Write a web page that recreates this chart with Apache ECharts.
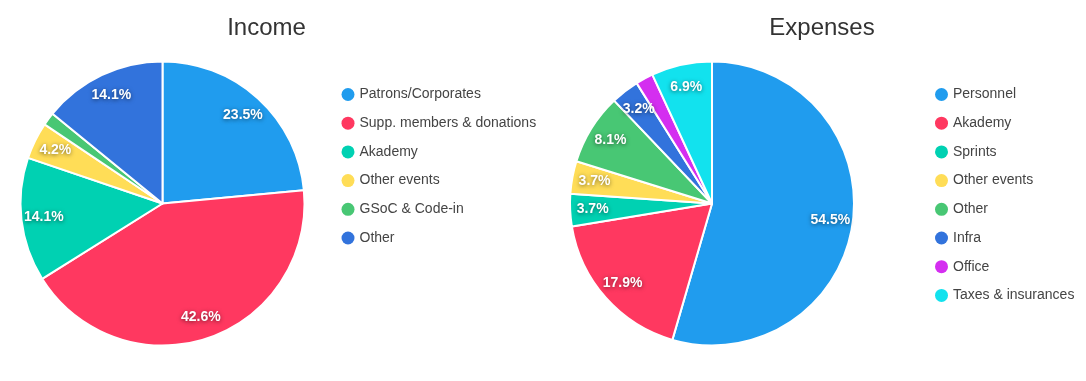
<!DOCTYPE html>
<html><head><meta charset="utf-8">
<script src="https://cdn.jsdelivr.net/npm/echarts@6/dist/echarts.min.js"></script>
<style>html,body{margin:0;padding:0;background:#fff}#c{width:1086px;height:381px}</style>
</head><body><div id="c"></div>
<script>
const incomeLabels = ['Patrons/Corporates', 'Supp. members & donations', 'Akademy', 'Other events', 'GSoC & Code-in', 'Other'];
const incomeValues = [23.5, 42.6, 14.1, 4.2, 1.5, 14.1];
const incomeColors = ['#209cee', '#ff3860', '#00d1b2', '#ffdd57', '#48c774', '#3273dc'];

const expenseLabels = ['Personnel', 'Akademy', 'Sprints', 'Other events', 'Other', 'Infra', 'Office', 'Taxes & insurances'];
const expenseValues = [54.5, 17.9, 3.7, 3.7, 8.1, 3.2, 2.0, 6.9];
const expenseColors = ['#209cee', '#ff3860', '#00d1b2', '#ffdd57', '#48c774', '#3273dc', '#d42ef0', '#12e2ee'];

const FONT = '"Liberation Sans", Arial, sans-serif';
const chart = echarts.init(document.getElementById('c'), null, {renderer: 'canvas'});

function mk(labels, values, colors) {
  return labels.map((n, i) => ({name: n, value: values[i], itemStyle: {color: colors[i]}}));
}
function legendData(labels, colors) {
  return labels.map((n, i) => ({name: n, itemStyle: {color: colors[i], borderWidth: 0}}));
}
const labelStyle = {
  show: true, position: 'inside', color: '#fff', fontWeight: 'bold', fontSize: 14, fontFamily: FONT,
  textShadowColor: 'rgba(0,0,0,0.55)', textShadowBlur: 4, textShadowOffsetX: 0, textShadowOffsetY: 1,
  formatter: p => (p.value < 2.5 ? '' : p.value.toFixed(1) + '%')
};
function pies(labels, values, colors, center) {
  return [
    {
      type: 'pie', radius: 142, center: center, startAngle: 90, clockwise: true,
      data: mk(labels, values, colors),
      itemStyle: {borderColor: '#fff', borderWidth: 2},
      label: {show: false}, labelLine: {show: false},
      emphasis: {scale: false}, animation: false
    },
    {
      type: 'pie', radius: [91, 142], center: center, startAngle: 90, clockwise: true, silent: true,
      data: labels.map((n, i) => ({name: n, value: values[i], itemStyle: {color: 'rgba(0,0,0,0)'}})),
      itemStyle: {borderWidth: 0},
      label: labelStyle, labelLine: {show: false}, animation: false
    }
  ];
}
const legendCommon = {
  orient: 'vertical', top: 87.5, padding: 0, icon: 'circle', itemWidth: 13, itemHeight: 13, itemGap: 14.7,
  textStyle: {fontSize: 14, color: '#444', fontFamily: FONT}, selectedMode: false
};

chart.setOption({
  animation: false,
  title: [
    {text: 'Income', left: 266.5, top: 16, padding: 0, textAlign: 'center', textStyle: {fontSize: 24, fontWeight: 'normal', color: '#333', fontFamily: FONT}},
    {text: 'Expenses', left: 822, top: 16, padding: 0, textAlign: 'center', textStyle: {fontSize: 24, fontWeight: 'normal', color: '#333', fontFamily: FONT}}
  ],
  legend: [
    Object.assign({}, legendCommon, {left: 341.5, data: legendData(incomeLabels, incomeColors)}),
    Object.assign({}, legendCommon, {left: 935, data: legendData(expenseLabels, expenseColors)})
  ],
  series: [].concat(pies(incomeLabels, incomeValues, incomeColors, [162.5, 203.5]),
                    pies(expenseLabels, expenseValues, expenseColors, [712, 203.5]))
});
</script></body></html>
